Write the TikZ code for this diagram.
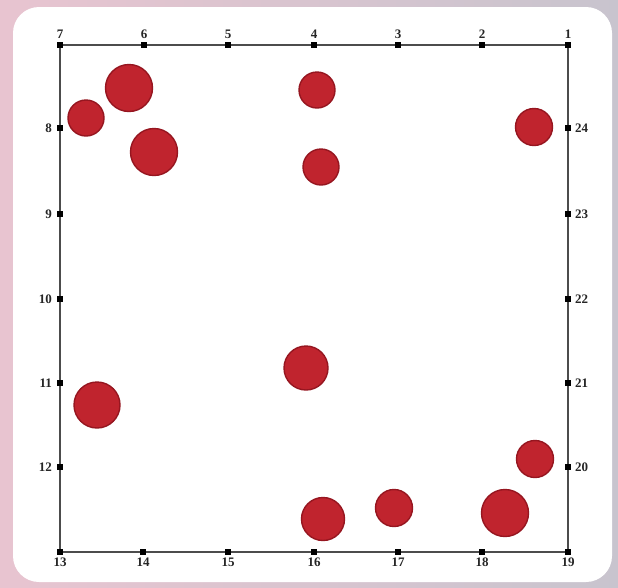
\documentclass[tikz,border=0pt]{standalone}
\usepackage{fontspec}
\setmainfont{Liberation Serif}
\begin{document}
\begin{tikzpicture}[x=1pt,y=-1pt,
  tick/.style={fill=black,minimum size=6pt,inner sep=0pt,outer sep=0pt,rectangle},
  lbl/.style={font=\fontsize{13}{13}\selectfont\bfseries,text=black!85,inner sep=1pt},
  ball/.style={circle,fill={rgb,255:red,192;green,36;blue,46},draw={rgb,255:red,150;green,22;blue,32},line width=1.4pt,inner sep=0pt,outer sep=0pt},
  frame/.style={draw=black!70,line width=2pt}]
\useasboundingbox (0,0) rectangle (618,587);
\shade[left color={rgb,255:red,232;green,196;blue,208},right color={rgb,255:red,200;green,196;blue,206}] (0,0) rectangle (618,587);
\fill[white,rounded corners=26pt] (13,7) rectangle (612,582);
% corners
\coordinate (c7) at (60,45);
\coordinate (c1) at (568,45);
\coordinate (c13) at (60,552);
\coordinate (c19) at (568,552);
\draw[frame] (c7) -- (c1) -- (c19) -- (c13) -- cycle;
% top ticks
\foreach \n/\x in {7/60,6/144,5/228,4/314,3/398,2/482,1/568}{
  \node[tick] (t\n) at (\x,45) {};
  \node[lbl,above=5pt] (lt\n) at (t\n) {\n};
}
% bottom ticks
\foreach \n/\x in {13/60,14/143,15/228,16/314,17/398,18/482,19/568}{
  \node[tick] (b\n) at (\x,552) {};
  \node[lbl,below=5pt] (lb\n) at (b\n) {\n};
}
% left ticks
\foreach \n/\y in {8/128,9/214,10/299,11/383,12/467}{
  \node[tick] (l\n) at (60,\y) {};
  \node[lbl,left=7pt] (ll\n) at (l\n) {\n};
}
% right ticks
\foreach \n/\y in {24/128,23/214,22/299,21/383,20/467}{
  \node[tick] (r\n) at (568,\y) {};
  \node[lbl,right=6pt] (lr\n) at (r\n) {\n};
}
% balls
\node[ball,minimum size=47pt] (p1) at (129,88) {};
\node[ball,minimum size=36pt] (p2) at (86,118) {};
\node[ball,minimum size=47pt] (p3) at (154,152) {};
\node[ball,minimum size=36pt] (p4) at (317,90) {};
\node[ball,minimum size=36pt] (p5) at (321,167) {};
\node[ball,minimum size=37pt] (p6) at (534,127) {};
\node[ball,minimum size=44pt] (p7) at (306,368) {};
\node[ball,minimum size=46pt] (p8) at (97,405) {};
\node[ball,minimum size=37pt] (p9) at (535,459) {};
\node[ball,minimum size=43pt] (p10) at (323,519) {};
\node[ball,minimum size=37pt] (p11) at (394,508) {};
\node[ball,minimum size=47pt] (p12) at (505,513) {};
\end{tikzpicture}
\end{document}
